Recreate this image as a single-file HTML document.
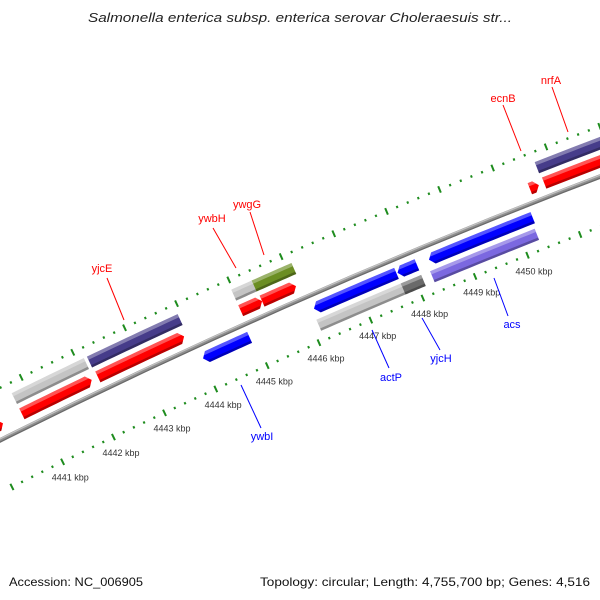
<!DOCTYPE html>
<html><head><meta charset="utf-8"><style>
html,body{margin:0;padding:0;background:#fff;}
svg{display:block;font-family:"Liberation Sans",sans-serif;}
</style></head><body>
<svg id="map" width="600" height="600" viewBox="0 0 600 600" xmlns="http://www.w3.org/2000/svg">
<rect x="0" y="0" width="600" height="600" fill="#fff"/>
<defs id="defs"></defs>
<g id="backbone-layer"></g>
<g id="tick-layer"></g>
<g id="feature-layer"></g>
<g id="label-layer"></g>
<text x="300" y="22" text-anchor="middle" font-size="13" font-style="italic" fill="#222" textLength="424" lengthAdjust="spacingAndGlyphs">Salmonella enterica subsp. enterica serovar Choleraesuis str...</text>
<text x="9" y="586" font-size="12" fill="#111" textLength="134" lengthAdjust="spacingAndGlyphs">Accession: NC_006905</text>
<text x="590" y="586" font-size="12" fill="#111" text-anchor="end" textLength="330" lengthAdjust="spacingAndGlyphs">Topology: circular; Length: 4,755,700 bp; Genes: 4,516</text>
</svg>
<script>
// ---- data (positions in kbp) ----
var featStart = [4440.00, 4440.73, 4442.21, 4444.97, 4445.38, 4450.47, 4450.74,
                 4440.73, 4442.19, 4444.97, 4445.36, 4450.72,
                 4444.02, 4446.16, 4447.76, 4448.36,
                 4446.12, 4447.74, 4448.30];
var featEnd   = [4440.36, 4442.09, 4443.88, 4445.38, 4446.03, 4450.64, 4453.60,
                 4442.13, 4443.94, 4445.36, 4446.12, 4453.60,
                 4444.92, 4447.74, 4448.13, 4450.33,
                 4447.74, 4448.13, 4450.29];
var featRing  = [1,1,1,1,1,1,1, 2,2,2,2,2, -1,-1,-1,-1, -2,-2,-2];
var featShape = ["fwd","fwd","fwd","fwd","fwd","fwd","fwd",
                 "box","box","box","box","box",
                 "rev","rev","rev","rev",
                 "box","box","box"];
var featColor = ["#ff0000","#ff0000","#ff0000","#ff0000","#ff0000","#ff0000","#ff0000",
                 "#c4c4c4","#463c8a","#c4c4c4","#6b8e23","#463c8a",
                 "#0000ff","#0000ff","#0000ff","#0000ff",
                 "#c4c4c4","#6a6a6a","#7b68e0"];
var tickMin = 4440.0;
var tickMax = 4454.0;
var tickStep = 0.2;
var kbpLabels = [4441,4442,4443,4444,4445,4446,4447,4448,4449,4450];
var geneNames = ["yjcE","ywbH","ywgG","ecnB","nrfA","ywbI","actP","yjcH","acs"];
var geneColors = ["#ff0000","#ff0000","#ff0000","#ff0000","#ff0000","#0000ff","#0000ff","#0000ff","#0000ff"];
var geneLabelX = [102,212,247,503,551,262,391,441,512];
var geneLabelY = [268,218,204,98,80,436,377,358,324];
var geneLineX1 = [107,213,250,503,552,241,372,422,494];
var geneLineY1 = [278,228,212,105,87,385,330,318,278];
var geneLineX2 = [124,236,264,521,568,261,389,440,508];
var geneLineY2 = [320,268,255,151,132,428,368,350,316];

// ---- geometry ----
var CX = 2995, CY = 6437, RB = 6703;
var A0 = -116.14, DEG_PER_KBP = 0.4867;
var RINGS = {"1":[RB+8,RB+20],"2":[RB+25,RB+37],"-1":[RB-20,RB-8],"-2":[RB-37,RB-25]};
var NS = "http://www.w3.org/2000/svg";
function ang(p){ return (A0 + DEG_PER_KBP*(p-4441))*Math.PI/180; }
function P(p,r){ var a=ang(p); return [CX+r*Math.cos(a), CY+r*Math.sin(a)]; }
function pts(list){ return list.map(function(q){return q[0].toFixed(2)+","+q[1].toFixed(2);}).join(" "); }
function arcPts(p1,p2,r){ var out=[],n=12; for(var i=0;i<=n;i++){ out.push(P(p1+(p2-p1)*i/n,r)); } return out; }
function mk(tag,attrs,parent){ var e=document.createElementNS(NS,tag); for(var k in attrs){e.setAttribute(k,attrs[k]);} parent.appendChild(e); return e; }

var svg = document.getElementById("map");
var defs = document.getElementById("defs");

// backbone
var bb = document.getElementById("backbone-layer");
var bbMain = mk("polyline",{points:pts(arcPts(4439,4455,RB)),fill:"none",stroke:"#8f8f8f","stroke-width":4.5},bb);


var bbLight = mk("polyline",{points:pts(arcPts(4439,4455,RB+1.3)),fill:"none",stroke:"#c2c2c2","stroke-width":1.3},bb);


var bbDark = mk("polyline",{points:pts(arcPts(4439,4455,RB-1.6)),fill:"none",stroke:"#6a6a6a","stroke-width":1.2},bb);



// ticks
var tl = document.getElementById("tick-layer");
var nT = Math.round((tickMax-tickMin)/tickStep);
[RB+47, RB-47].forEach(function(rr,ri){
  for(var i=0;i<=nT;i++){
    var p = tickMin + i*tickStep;
    var major = Math.abs(p-Math.round(p))<1e-6;
    var len = major?7:2.4;
    var a=P(p,rr-len/2), b=P(p,rr+len/2);
    var t = mk("line",{x1:a[0],y1:a[1],x2:b[0],y2:b[1],stroke:"#1e8c1e","stroke-width":2},tl);
    
    
  }
});
kbpLabels.forEach(function(k){
  var q = P(k, RB-47-17.5);
  var t = mk("text",{x:q[0],y:q[1]+3,"text-anchor":"middle","font-size":"9",fill:"#333"},tl);
  t.textContent = k+" kbp";
  
  
});

// features
var fl = document.getElementById("feature-layer");
featStart.forEach(function(s,i){
  var e = featEnd[i], rg = RINGS[String(featRing[i])], r1=rg[0], r2=rg[1], rm=(r1+r2)/2;
  var head = Math.min(0.085, (e-s)*0.6);
  var poly;
  if(featShape[i]==="fwd"){
    poly = arcPts(s,e-head,r1).concat([P(e,rm)]).concat(arcPts(s,e-head,r2).reverse());
  } else if(featShape[i]==="rev"){
    poly = [P(s,rm)].concat(arcPts(s+head,e,r1)).concat(arcPts(s+head,e,r2).reverse());
  } else {
    poly = arcPts(s,e,r1).concat(arcPts(s,e,r2).reverse());
  }
  var cid = "clip"+i;
  var cp = mk("clipPath",{id:cid},defs);
  mk("polygon",{points:pts(poly)},cp);
  var g = mk("g",{},fl);
  
  
  mk("polygon",{points:pts(poly),fill:featColor[i]},g);
  var gc = mk("g",{"clip-path":"url(#"+cid+")"},g);
  var lp = arcPts(s-0.1,e+0.1,r2-3.5).concat(arcPts(s-0.1,e+0.1,r2+1).reverse());
  mk("polygon",{points:pts(lp),fill:"#fff","fill-opacity":0.33},gc);
  var dp = arcPts(s-0.1,e+0.1,r1-1).concat(arcPts(s-0.1,e+0.1,r1+2.5).reverse());
  mk("polygon",{points:pts(dp),fill:"#000","fill-opacity":0.28},gc);
});

// gene labels
var ll = document.getElementById("label-layer");
geneNames.forEach(function(n,i){
  var ln = mk("line",{x1:geneLineX1[i],y1:geneLineY1[i],x2:geneLineX2[i],y2:geneLineY2[i],stroke:geneColors[i],"stroke-width":1},ll);
  
  
  var t = mk("text",{x:geneLabelX[i],y:geneLabelY[i]+4,"text-anchor":"middle","font-size":"11",fill:geneColors[i]},ll);
  t.textContent = n;
  
  
});
</script>
</body></html>
